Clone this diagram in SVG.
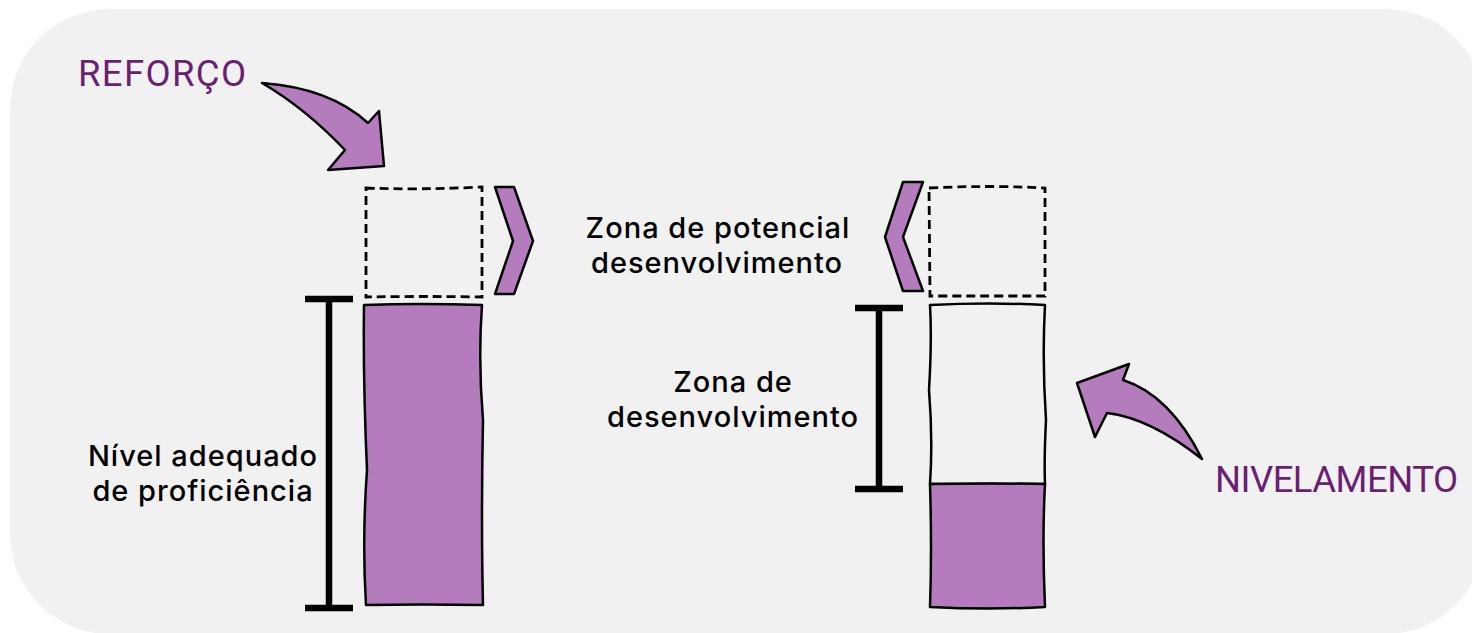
<svg xmlns="http://www.w3.org/2000/svg" width="1472" height="633" viewBox="0 0 1472 633">
<style>
.lbl{font-family:Inter,"Liberation Sans",sans-serif;font-size:29px;font-weight:500;letter-spacing:1px;fill:#000;text-anchor:middle}
.ttl{font-family:Roboto,"Liberation Sans",sans-serif;font-size:36.5px;fill:#6b1f73}
.fill{fill:#b47bbd;stroke:#000;stroke-width:2.5;stroke-linejoin:round}
.empty{fill:none;stroke:#000;stroke-width:2.5;stroke-linejoin:round}
.dash{fill:none;stroke:#000;stroke-width:2.8;stroke-dasharray:9 5}
.beam{stroke:#000;stroke-width:6.5;fill:none}
</style>
<rect x="10" y="9" width="1475" height="625" rx="100" fill="#f1f1f1"/>
<g id="reforco-label"><text class="ttl" x="78" y="86" textLength="168">REFORÇO</text></g>
<g id="nivelamento-label"><text class="ttl" x="1215" y="492" textLength="243">NIVELAMENTO</text></g>
<g id="arrow-reforco"><path class="fill" d="M262,83 Q330,88 368,123 L379,111 L384,166 L328,170 L345,150 Q305,108 262,83 Z"/></g>
<g id="arrow-nivelamento"><path class="fill" d="M1202,459 Q1170,395 1123,380 L1129,364 L1077,383 L1095,437 L1107,413 Q1150,418 1202,459 Z"/></g>
<g id="left-column">
<path class="dash" d="M366,188 Q420,190 482,187 L482,297 Q420,296 366,297 Z"/>
<path class="fill" d="M364,305 Q420,303 482,305 Q478,360 483,420 Q481,520 483,605 Q420,604 366,605 Q362,540 367,470 Q363,380 364,305 Z"/>
</g>
<g id="right-column">
<path class="dash" d="M929,188 Q990,185 1045,188 L1045,296 Q990,296 930,296 Z"/>
<path class="empty" d="M930,305 Q990,302 1045,305 Q1042,360 1046,420 Q1044,460 1045,484 L930,484 Q933,440 929,390 Q932,340 930,305 Z"/>
<path class="fill" d="M930,484 Q990,483 1045,484 Q1042,540 1045,607 Q990,610 930,607 Q932,550 930,484 Z"/>
</g>
<g id="chevron-left"><path class="fill" d="M495,187 L514,187 L533,241 L514,294 L495,294 L513,241 Z"/></g>
<g id="chevron-right"><path class="fill" d="M903,182 L923,182 L903,237 L923,291 L903,291 L885,237 Z"/></g>
<g id="beam-left"><path class="beam" d="M305,299 H353 M329,299 V608 M305,608 H353"/></g>
<g id="beam-right"><path class="beam" d="M855,308 H903 M879,308 V489 M855,489 H903"/></g>
<g id="label-potencial"><text class="lbl" x="718" y="238">Zona de potencial</text><text class="lbl" x="717" y="273">desenvolvimento</text></g>
<g id="label-desenvolvimento"><text class="lbl" x="733" y="392">Zona de</text><text class="lbl" x="733" y="427">desenvolvimento</text></g>
<g id="label-nivel"><text class="lbl" x="203" y="466">Nível adequado</text><text class="lbl" x="203" y="501">de proficiência</text></g>
</svg>
